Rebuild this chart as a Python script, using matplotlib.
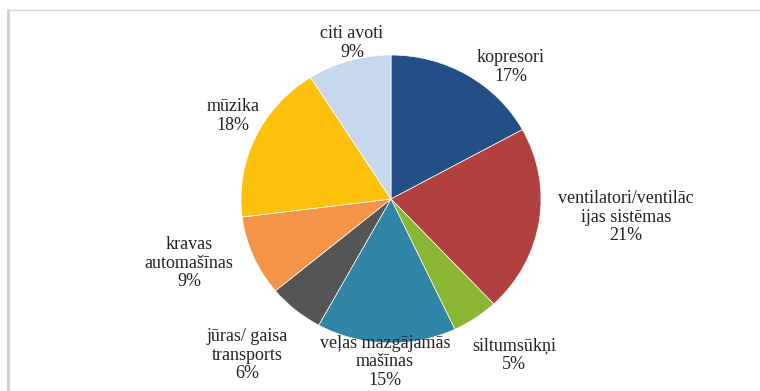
import matplotlib
matplotlib.use("Agg")
import matplotlib.pyplot as plt
from matplotlib.lines import Line2D

# Noise sources and their shares (%)
categories = [
    "kopresori",
    "ventilatori/ventilāc\nijas sistēmas",
    "siltumsūkņi",
    "veļas mazgājamās\nmašīnas",
    "jūras/ gaisa\ntransports",
    "kravas\nautomašīnas",
    "mūzika",
    "citi avoti",
]
shares = [17, 21, 5, 15, 6, 9, 18, 9]
colors = ["#214F86", "#B2403E", "#8AB532", "#3084A5",
          "#555555", "#F39449", "#FDC00B", "#C5D8EE"]

W, H = 760, 391
# pie centre and radii in pixels (slightly wider than tall)
CX, CY, RX, RY = 391, 199, 150, 144
# label anchor points in pixels
label_px = [(511, 67), (626, 217), (514, 355), (385, 362),
            (247, 355), (189, 263), (233, 116), (352, 43)]

fig = plt.figure(figsize=(W / 100, H / 100), dpi=100)
ax = fig.add_axes([0, 0, 1, 1])
ax.pie(shares, colors=colors, startangle=90, counterclock=False,
       wedgeprops=dict(edgecolor="white", linewidth=0.5))
ax.set_aspect("auto")
ax.set_xlim(-CX / RX, (W - CX) / RX)
ax.set_ylim((CY - H) / RY, CY / RY)
ax.axis("off")


def to_data(px, py):
    return (px - CX) / RX, (CY - py) / RY


for name, share, (px, py) in zip(categories, shares, label_px):
    x, y = to_data(px, py)
    ax.text(x, y, f"{name}\n{share}%", ha="center", va="center",
            family="Liberation Serif", fontsize=13, color="#222222",
            linespacing=1.1, zorder=5)

# light frame along the top and left edges
fig.add_artist(Line2D([8 / W, 8 / W], [0, 1 - 10 / H],
                      transform=fig.transFigure, color="#CFCFCF", lw=2))
fig.add_artist(Line2D([8 / W, 1], [1 - 10 / H, 1 - 10 / H],
                      transform=fig.transFigure, color="#D8D8D8", lw=1))

fig.savefig("out.png", dpi=100)
